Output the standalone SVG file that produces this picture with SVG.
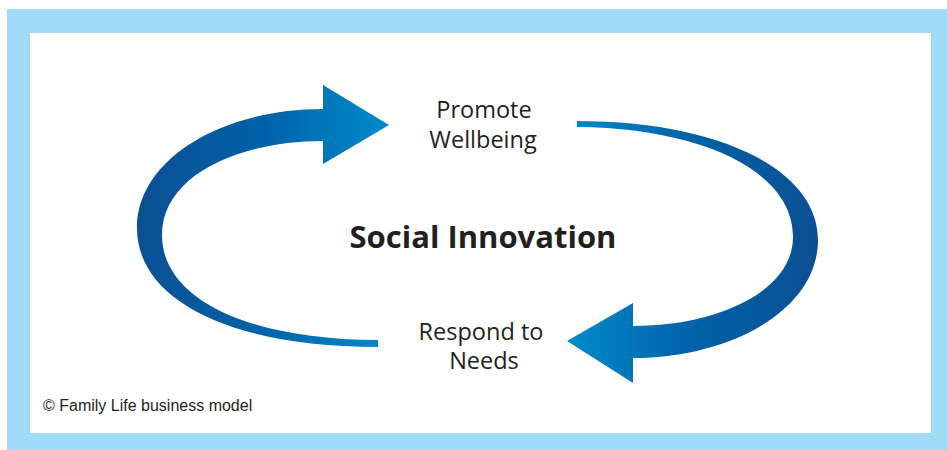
<svg xmlns="http://www.w3.org/2000/svg" width="947" height="450" viewBox="0 0 947 450">
  <style>
    .lbl { font-family: "Open Sans", "Noto Sans", sans-serif; font-size: 23.5px; fill: #231f20; text-anchor: middle; }
    .title { font-family: "Open Sans", "Noto Sans", sans-serif; font-size: 31px; font-weight: bold; fill: #231f20; text-anchor: middle; }
    .foot { font-family: "Liberation Sans", Arial, sans-serif; font-size: 16px; fill: #231f20; }
  </style>
  <defs>
    <linearGradient id="gL" gradientUnits="userSpaceOnUse" x1="137" y1="230" x2="389" y2="230">
      <stop offset="0" stop-color="#0c4f93"/>
      <stop offset="0.5" stop-color="#0062a8"/>
      <stop offset="1" stop-color="#008bca"/>
    </linearGradient>
    <linearGradient id="gR" gradientUnits="userSpaceOnUse" x1="818" y1="240" x2="567" y2="240">
      <stop offset="0" stop-color="#0c4f93"/>
      <stop offset="0.5" stop-color="#0062a8"/>
      <stop offset="1" stop-color="#008bca"/>
    </linearGradient>
  </defs>
  <rect x="7" y="9" width="940" height="441" fill="#a0dcf7"/>
  <rect x="30" y="33" width="901" height="400" fill="#ffffff"/>

  <g id="connectors">
    <path id="arrow-left" fill="url(#gL)" d="M323,109 C220,109 137,160 137,228 C137,300 230,347 378,347 L378,340 C250,340 162,300 162,235 C162,175 240,141 323,141 L323,164 L389,125 L323,85 Z"/>
    <path id="arrow-right" fill="url(#gR)" d="M577,121 C720,121 818,170 818,240 C818,310 730,358 633,358 L633,383 L567,341 L633,303 L633,326 C720,326 793,290 793,237 C793,170 700,128 577,127 Z"/>
  </g>

  <g id="promote">
    <text class="lbl" x="484" y="118">Promote</text>
    <text class="lbl" x="483" y="148">Wellbeing</text>
  </g>
  <g id="respond">
    <text class="lbl" x="481" y="340">Respond to</text>
    <text class="lbl" x="484" y="369">Needs</text>
  </g>
  <g id="center">
    <text class="title" x="483" y="248">Social Innovation</text>
  </g>
  <g id="footer">
    <text class="foot" x="43" y="411">© Family Life business model</text>
  </g>
</svg>
